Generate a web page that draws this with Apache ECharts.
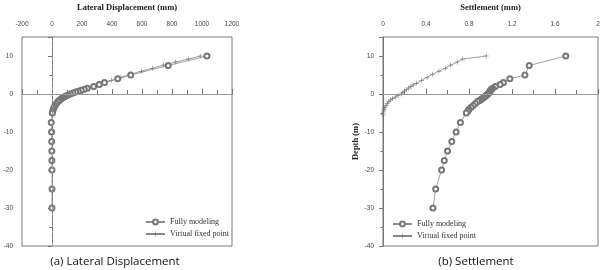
<!DOCTYPE html>
<html>
<head>
<meta charset="utf-8">
<script src="https://cdn.jsdelivr.net/npm/echarts@6/dist/echarts.min.js"></script>
<style>
  html, body { margin: 0; padding: 0; background: #fff; }
  #chart { width: 601px; height: 270px; }
</style>
</head>
<body>
<div id="chart"></div>
<script>
// Depths (m) for each series
const fullyDepth = [10, 7.5, 5, 4, 3, 2.5, 2, 1.5, 1.25, 1, 0.75, 0.5, 0.25, 0, -0.25, -0.5, -0.75, -1, -1.25, -1.5, -1.75, -2, -2.5, -3, -3.5, -4, -4.5, -5, -7.5, -10, -12.5, -15, -17.5, -20, -25, -30];
const virtualDepth = [10, 9.2, 8.4, 7.6, 6.8, 6.0, 5.2, 4.4, 3.6, 2.8, 2.4, 2.0, 1.6, 1.2, 0.8, 0.4, 0, -0.4, -0.8, -1.2, -1.6, -2.0, -2.5, -3, -3.5, -4, -4.5, -5, -5.5];

// (a) Lateral displacement (mm)
const lateralFully = [1033, 775, 525, 438, 350, 315, 278, 235, 215, 195, 175, 158, 140, 122, 107, 94, 82, 72, 62, 54, 46, 40, 30, 21, 14, 9, 5, 2, -5, -3, -2, -1, -1, 0, 0, 0];
const lateralVirtual = [991, 909, 825, 745, 670, 595, 525, 460, 395, 335, 305, 275, 245, 212, 180, 150, 122, 100, 80, 63, 50, 40, 29, 20, 13, 8, 4, 1, 0];

// (b) Settlement (mm)
const settleFully = [1.70, 1.36, 1.32, 1.18, 1.12, 1.09, 1.045, 1.02, 1.01, 1.0, 0.995, 0.99, 0.985, 0.975, 0.965, 0.955, 0.945, 0.935, 0.92, 0.91, 0.895, 0.88, 0.86, 0.84, 0.82, 0.80, 0.79, 0.775, 0.72, 0.68, 0.64, 0.60, 0.57, 0.545, 0.49, 0.465];
const settleVirtual = [0.96, 0.74, 0.69, 0.63, 0.58, 0.52, 0.46, 0.41, 0.36, 0.31, 0.28, 0.26, 0.24, 0.22, 0.20, 0.185, 0.17, 0.14, 0.115, 0.09, 0.07, 0.055, 0.04, 0.028, 0.018, 0.01, 0.005, 0.002, 0];

// Tick labels
const lateralTicks = [-200, 0, 200, 400, 600, 800, 1000, 1200];
const settleTicks = [0, 0.4, 0.8, 1.2, 1.6, 2];
const depthTicks = [-40, -30, -20, -10, 0, 10];
const depthMax = 15;

const seriesNames = ['Fully modeling', 'Virtual fixed point'];

const pairs = (xs, ys) => xs.map((x, i) => [x, ys[i]]);

const axisGray = '#777';
const labelStyle = { color: '#444', fontSize: 6.5, fontFamily: 'Liberation Sans' };
const nameStyle = { color: '#222', fontSize: 8.5, fontWeight: 'bold', fontFamily: 'Liberation Serif' };
const plusSymbol = 'path://M4.5,0h1v10h-1zM0,4.5h10v1h-10z';

function makeX(index, ticks, name) {
    return {
        gridIndex: index,
        type: 'value',
        position: 'top',
        min: ticks[0],
        max: ticks[ticks.length - 1],
        interval: ticks[1] - ticks[0],
        name: name,
        nameLocation: 'middle',
        nameGap: 25,
        nameTextStyle: nameStyle,
        axisLine: { show: true, lineStyle: { color: axisGray, width: 1 } },
        axisTick: { show: true, length: 5, lineStyle: { color: axisGray } },
        minorTick: { show: true, splitNumber: 2, length: 4, lineStyle: { color: axisGray } },
        axisLabel: Object.assign({ margin: 9, formatter: (v) => String(v) }, labelStyle),
        splitLine: { show: false }
    };
}

function makeY(index, name) {
    return {
        gridIndex: index,
        type: 'value',
        min: depthTicks[0],
        max: depthMax,
        interval: depthTicks[1] - depthTicks[0],
        name: name,
        nameLocation: 'middle',
        nameGap: 22,
        nameTextStyle: nameStyle,
        axisLine: { show: true, lineStyle: { color: axisGray, width: 1 } },
        axisTick: { show: true, length: 4, lineStyle: { color: axisGray } },
        minorTick: { show: true, splitNumber: 2, length: 2.5, lineStyle: { color: axisGray } },
        axisLabel: Object.assign({
            margin: 9,
            formatter: (v) => (depthTicks.indexOf(v) >= 0 ? String(v) : '')
        }, labelStyle),
        splitLine: { show: false }
    };
}

function fullySeries(index, data) {
    return {
        name: seriesNames[0],
        type: 'line',
        xAxisIndex: index,
        yAxisIndex: index,
        data: data,
        symbol: 'emptyCircle',
        symbolSize: 5,
        showAllSymbol: true,
        color: '#777',
        lineStyle: { color: '#8a8a8a', width: 0.8 },
        itemStyle: { color: '#777', borderWidth: 0.7 },
        animation: false,
        z: 3
    };
}

function virtualSeries(index, data) {
    return {
        name: seriesNames[1],
        type: 'line',
        xAxisIndex: index,
        yAxisIndex: index,
        data: data,
        symbol: plusSymbol,
        symbolSize: 5,
        showAllSymbol: true,
        color: '#666',
        lineStyle: { color: '#888', width: 0.8 },
        itemStyle: { color: '#666' },
        animation: false,
        z: 2
    };
}

// Zero reference lines (horizontal at depth 0, dashed vertical at x=0 on the left)
function zeroLines(index, withVertical) {
    const lines = [{ yAxis: 0, lineStyle: { type: 'solid', color: '#999', width: 1 } }];
    if (withVertical) lines.push({ xAxis: 0, lineStyle: { type: [3, 3], color: '#999', width: 1 } });
    return {
        type: 'line',
        xAxisIndex: index,
        yAxisIndex: index,
        data: [],
        silent: true,
        markLine: { symbol: 'none', silent: true, label: { show: false }, animation: false, data: lines }
    };
}

function legendAt(left, top) {
    return {
        data: seriesNames,
        orient: 'vertical',
        left: left,
        top: top,
        padding: 0,
        itemWidth: 19,
        itemHeight: 6,
        itemGap: 4,
        selectedMode: false,
        textStyle: { color: '#333', fontSize: 8, fontFamily: 'Liberation Serif' }
    };
}

const chart = echarts.init(document.getElementById('chart'));

chart.setOption({
    animation: false,
    grid: [
        { left: 22, top: 37, width: 210, height: 209, show: true, borderColor: axisGray, borderWidth: 1, containLabel: false, outerBoundsMode: 'none' },
        { left: 383, top: 37, width: 215, height: 209, show: true, borderColor: axisGray, borderWidth: 1, containLabel: false, outerBoundsMode: 'none' }
    ],
    xAxis: [
        makeX(0, lateralTicks, 'Lateral Displacement (mm)'),
        makeX(1, settleTicks, 'Settlement (mm)')
    ],
    yAxis: [
        makeY(0, ''),
        makeY(1, 'Depth (m)')
    ],
    legend: [legendAt(145, 218), legendAt(392, 220)],
    series: [
        zeroLines(0, true),
        zeroLines(1, false),
        fullySeries(0, pairs(lateralFully, fullyDepth)),
        virtualSeries(0, pairs(lateralVirtual, virtualDepth)),
        fullySeries(1, pairs(settleFully, fullyDepth)),
        virtualSeries(1, pairs(settleVirtual, virtualDepth))
    ],
    graphic: [
        {
            type: 'text', x: 115, y: 262,
            style: { text: '(a) Lateral Displacement', align: 'center', verticalAlign: 'middle', fontSize: 11.5, fontFamily: 'Open Sans', fill: '#111' }
        },
        {
            type: 'text', x: 476, y: 262,
            style: { text: '(b) Settlement', align: 'center', verticalAlign: 'middle', fontSize: 11.5, fontFamily: 'Open Sans', fill: '#111' }
        }
    ]
});
</script>
</body>
</html>
